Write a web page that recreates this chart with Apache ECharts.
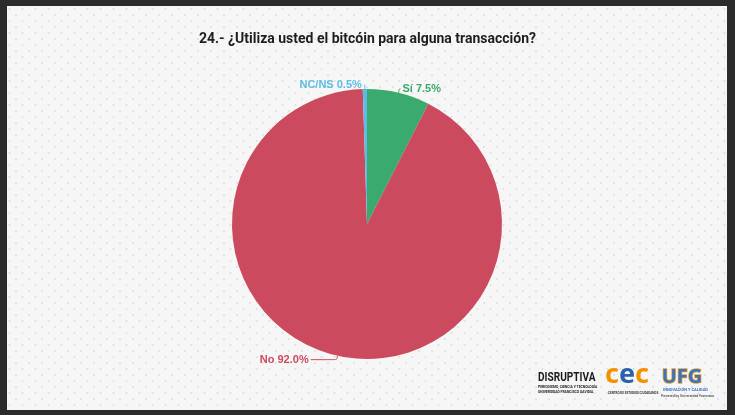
<!DOCTYPE html>
<html>
<head>
<meta charset="utf-8">
<script src="https://cdn.jsdelivr.net/npm/echarts@6/dist/echarts.min.js"></script>
<style>
html,body{margin:0;padding:0;background:#2b2b2b;}
#c{width:735px;height:415px;}
</style>
</head>
<body>
<div id="c"></div>
<script>
const titleText = '24.- ¿Utiliza usted el bitcóin para alguna transacción?';
const categories = ['Sí', 'No', 'NC/NS'];
const values = [7.5, 92.0, 0.5];
const colors = ['#3aaa6e', '#cc4a5e', '#5bbde4'];

// faint dot pattern for the background
const pc = document.createElement('canvas');
pc.width = 13; pc.height = 12;
const pctx = pc.getContext('2d');
pctx.fillStyle = '#f6f6f6';
pctx.fillRect(0, 0, 13, 12);
pctx.fillStyle = 'rgba(0,0,0,0.09)';
pctx.beginPath(); pctx.arc(3, 3, 1.1, 0, Math.PI * 2); pctx.fill();
pctx.beginPath(); pctx.arc(9.5, 9, 1.1, 0, Math.PI * 2); pctx.fill();

const lineCfg = [
  {length: 4, length2: 1},
  {length: 4, length2: 26},
  {length: 4, length2: 1}
];

const data = categories.map((c, i) => ({
  name: c,
  value: values[i],
  itemStyle: {color: colors[i]},
  label: {color: colors[i]},
  labelLine: Object.assign({lineStyle: {color: colors[i], width: 1}}, lineCfg[i])
}));

const chart = echarts.init(document.getElementById('c'), null, {renderer: 'canvas'});
chart.setOption({
  backgroundColor: '#2b2b2b',
  animation: false,
  graphic: [
    {type: 'rect', shape: {x: 7, y: 6, width: 720, height: 404}, style: {fill: {image: pc, repeat: 'repeat'}}, z: -10},
    {type: 'text', x: 538, y: 372, scaleX: 0.84, style: {text: 'DISRUPTIVA', font: 'bold 12px Roboto, sans-serif', fill: '#1a1a1a'}},
    {type: 'text', x: 538, y: 385, scaleX: 0.85, style: {text: 'PERIODISMO, CIENCIA Y TECNOLOGÍA', font: 'bold 4px Roboto, sans-serif', fill: '#222'}},
    {type: 'text', x: 538, y: 390, scaleX: 0.85, style: {text: 'UNIVERSIDAD FRANCISCO GAVIDIA', font: 'bold 4px Roboto, sans-serif', fill: '#222'}},
    {type: 'text', left: 605, top: 362, style: {
      text: '{o|c}{b|e}{o|c}',
      rich: {
        o: {font: 'bold 27px "Noto Sans", sans-serif', fill: '#f39200'},
        b: {font: 'bold 27px "Noto Sans", sans-serif', fill: '#2a63ad'}
      }
    }},
    {type: 'text', left: 608, top: 392, style: {text: 'CENTRO DE ESTUDIOS CIUDADANOS', font: 'bold 3px Roboto, sans-serif', fill: '#333'}},
    {type: 'text', left: 661, top: 367, style: {text: 'UFG', font: 'bold 20px "Noto Sans", sans-serif', fill: '#3b73bf', stroke: '#f0a32a', lineWidth: 1.5}},
    {type: 'text', left: 663, top: 388, style: {text: 'INNOVACIÓN Y CALIDAD', font: 'bold 4px Roboto, sans-serif', fill: '#3b73bf'}},
    {type: 'text', left: 661, top: 394, style: {text: 'Powered by Universidad Francisco', font: '3.5px Roboto, sans-serif', fill: '#222'}}
  ],
  title: {
    text: titleText,
    left: 'center',
    top: 27,
    textStyle: {
      fontFamily: 'Roboto, "Noto Sans", sans-serif',
      fontWeight: 'bold',
      fontSize: 14,
      color: '#1e1e1e'
    }
  },
  series: [{
    type: 'pie',
    center: [367, 224],
    radius: [0, 135],
    startAngle: 90,
    clockwise: true,
    avoidLabelOverlap: false,
    label: {
      show: true,
      formatter: p => p.name + ' ' + p.value.toFixed(1) + '%',
      fontFamily: '"Liberation Sans", Arial, sans-serif',
      fontWeight: 'bold',
      fontSize: 11,
      distanceToLabelLine: 2
    },
    labelLine: {show: true, smooth: 0.2},
    itemStyle: {borderWidth: 0},
    data: data
  }]
});
</script>
</body>
</html>
